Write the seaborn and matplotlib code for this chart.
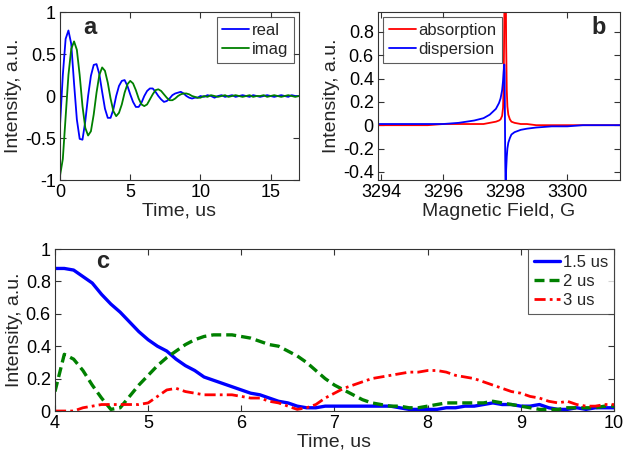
import numpy as np
import pandas as pd
import matplotlib
matplotlib.use("Agg")
import matplotlib.pyplot as plt
from matplotlib.ticker import FuncFormatter
import seaborn as sns

# ---- panel a: FID, real / imag ----
t_fid = [0.0, 0.2, 0.4, 0.6, 0.8, 1.0, 1.2, 1.4, 1.6, 1.8, 2.0, 2.2, 2.4, 2.6, 2.8,
         3.0, 3.2, 3.4, 3.6, 3.8, 4.0, 4.2, 4.4, 4.6, 4.8, 5.0, 5.2, 5.4, 5.6, 5.8,
         6.0, 6.2, 6.4, 6.6, 6.8, 7.0, 7.2, 7.4, 7.6, 7.8, 8.0, 8.2, 8.4, 8.6, 8.8,
         9.0, 9.2, 9.4, 9.6, 9.8, 10.0,
         10.25, 10.5, 10.75, 11.0, 11.25, 11.5, 11.75, 12.0, 12.25, 12.5, 12.75,
         13.0, 13.25, 13.5, 13.75, 14.0, 14.25, 14.5, 14.75, 15.0, 15.25, 15.5,
         15.75, 16.0, 16.25, 16.5, 16.75, 17.0]
fid_real = [-0.35, 0.25, 0.68, 0.78, 0.62, 0.15, -0.28, -0.51, -0.52, -0.30, 0.00,
            0.24, 0.37, 0.38, 0.26, 0.05, -0.15, -0.26, -0.26, -0.16, 0.00, 0.12,
            0.18, 0.19, 0.12, 0.02, -0.07, -0.13, -0.13, -0.08, 0.00, 0.06, 0.09,
            0.09, 0.05, 0.00, -0.04, -0.07, -0.06, -0.03, 0.01, 0.03, 0.04, 0.05,
            0.03, 0.00, -0.02, -0.03, -0.02, -0.02, 0.00,
            -0.01, 0.01, 0.00, -0.02, 0.00, 0.01, -0.01, 0.00, 0.01, -0.01, 0.00,
            0.01, 0.00, -0.01, 0.01, 0.00, -0.01, 0.00, 0.01, 0.00, -0.01, 0.00,
            0.01, 0.00, -0.01, 0.01, 0.00, 0.00]
fid_imag = [-0.95, -0.75, -0.25, 0.25, 0.56, 0.65, 0.55, 0.25, -0.12, -0.38, -0.47,
            -0.42, -0.22, 0.04, 0.25, 0.34, 0.30, 0.16, -0.03, -0.18, -0.24, -0.20,
            -0.10, 0.04, 0.14, 0.18, 0.15, 0.07, -0.03, -0.10, -0.12, -0.10, -0.04,
            0.02, 0.07, 0.08, 0.06, 0.02, -0.02, -0.05, -0.05, -0.03, 0.00, 0.02,
            0.03, 0.03, 0.02, 0.00, -0.01, -0.02, -0.02,
            0.00, -0.01, 0.01, 0.00, -0.01, 0.00, 0.01, -0.01, 0.00, 0.01, 0.00,
            -0.01, 0.00, 0.01, -0.01, 0.00, 0.00, 0.01, -0.01, 0.00, 0.01, 0.00,
            -0.01, 0.00, 0.01, 0.00, -0.01, 0.00]

# ---- panel b: field sweep ----
field = [3293.9, 3294.5, 3295.0, 3295.5, 3296.0, 3296.5, 3297.0, 3297.3, 3297.5,
         3297.7, 3297.8, 3297.85, 3297.9, 3297.93, 3297.95, 3297.97, 3297.98,
         3297.99, 3298.0, 3298.01, 3298.02, 3298.03, 3298.05, 3298.07, 3298.1,
         3298.15, 3298.2, 3298.3, 3298.5, 3298.7, 3299.0, 3299.5, 3300.0, 3300.5,
         3301.0, 3301.7]
absorption = [0.0, 0.0, 0.0, 0.0, 0.01, 0.01, 0.01, 0.01, 0.02, 0.03, 0.04, 0.05,
              0.08, 0.15, 0.35, 0.9, 1.3, 1.5, 1.5, 1.4, 1.1, 0.7, 0.3, 0.16, 0.09,
              0.05, 0.03, 0.02, 0.01, 0.01, 0.0, 0.0, 0.0, 0.0, 0.0, 0.0]
dispersion = [0.01, 0.01, 0.01, 0.01, 0.01, 0.02, 0.04, 0.06, 0.09, 0.14, 0.19, 0.23,
              0.30, 0.38, 0.46, 0.52, 0.45, 0.10, -0.30, -0.50, -0.50, -0.38, -0.27,
              -0.20, -0.15, -0.11, -0.08, -0.06, -0.04, -0.03, -0.02, -0.01, -0.01,
              0.0, 0.0, 0.0]

# ---- panel c: three delays ----
t_c = [4.0, 4.1, 4.2, 4.3, 4.4, 4.5, 4.6, 4.7, 4.8, 4.9, 5.0, 5.1, 5.2, 5.3, 5.4,
       5.5, 5.6, 5.7, 5.8, 5.9, 6.0, 6.1, 6.2, 6.3, 6.4, 6.5, 6.6, 6.7, 6.8, 6.9,
       7.0, 7.1, 7.2, 7.3, 7.4, 7.5, 7.6, 7.7, 7.8, 7.9, 8.0, 8.1, 8.2, 8.3, 8.4,
       8.5, 8.6, 8.7, 8.8, 8.9, 9.0, 9.1, 9.2, 9.3, 9.4, 9.5, 9.6, 9.7, 9.8, 9.9,
       10.0]
c_15 = [0.88, 0.88, 0.87, 0.83, 0.79, 0.72, 0.66, 0.61, 0.55, 0.49, 0.44, 0.40,
        0.37, 0.32, 0.28, 0.25, 0.21, 0.19, 0.17, 0.15, 0.13, 0.11, 0.10, 0.08,
        0.06, 0.05, 0.03, 0.02, 0.02, 0.03, 0.03, 0.03, 0.03, 0.03, 0.03, 0.03,
        0.03, 0.02, 0.01, 0.01, 0.01, 0.01, 0.02, 0.02, 0.03, 0.03, 0.04, 0.05,
        0.04, 0.04, 0.03, 0.03, 0.04, 0.02, 0.01, 0.01, 0.02, 0.01, 0.02, 0.02,
        0.02]
c_2 = [0.12, 0.35, 0.32, 0.25, 0.16, 0.08, 0.01, 0.02, 0.09, 0.16, 0.22, 0.28,
       0.33, 0.37, 0.41, 0.44, 0.46, 0.47, 0.47, 0.47, 0.46, 0.45, 0.43, 0.41,
       0.40, 0.37, 0.34, 0.30, 0.25, 0.20, 0.16, 0.13, 0.10, 0.07, 0.05, 0.04,
       0.03, 0.03, 0.02, 0.02, 0.03, 0.04, 0.05, 0.05, 0.05, 0.05, 0.05, 0.06,
       0.05, 0.04, 0.03, 0.02, 0.01, 0.01, 0.01, 0.02, 0.02, 0.02, 0.02, 0.03,
       0.03]
c_3 = [0.0, 0.0, 0.0, 0.02, 0.03, 0.04, 0.04, 0.04, 0.04, 0.04, 0.05, 0.09, 0.13,
       0.14, 0.12, 0.11, 0.10, 0.10, 0.10, 0.10, 0.09, 0.08, 0.08, 0.06, 0.05,
       0.03, 0.01, 0.02, 0.04, 0.08, 0.11, 0.14, 0.16, 0.18, 0.20, 0.21, 0.22,
       0.23, 0.24, 0.24, 0.25, 0.25, 0.24, 0.22, 0.21, 0.20, 0.18, 0.16, 0.14,
       0.12, 0.11, 0.09, 0.08, 0.06, 0.05, 0.06, 0.04, 0.03, 0.03, 0.04, 0.04]

sns.set_style("ticks")
plt.rcParams["font.family"] = ["Liberation Sans", "DejaVu Sans"]
plt.rcParams["axes.unicode_minus"] = False
plt.rcParams["xtick.direction"] = "in"
plt.rcParams["ytick.direction"] = "in"
plt.rcParams["xtick.top"] = True
plt.rcParams["ytick.right"] = True
plt.rcParams["axes.linewidth"] = 0.8
plt.rcParams["axes.edgecolor"] = "#333333"
plt.rcParams["xtick.color"] = "#333333"
plt.rcParams["ytick.color"] = "#333333"
plt.rcParams["xtick.labelcolor"] = "black"
plt.rcParams["ytick.labelcolor"] = "black"

TICK_FS = 13
LABEL_FS = 14
LEG_FS = 12
fmt_g = FuncFormatter(lambda v, p: "%g" % round(v, 6))

fig = plt.figure(figsize=(6.29, 4.53), dpi=100)
ax_a = fig.add_axes([0.0954, 0.6026, 0.3796, 0.3709])
ax_b = fig.add_axes([0.601, 0.6026, 0.3847, 0.3709])
ax_c = fig.add_axes([0.0874, 0.0927, 0.8887, 0.3576])


def legend_box(ax, **kw):
    leg = ax.legend(frameon=True, fancybox=False, fontsize=LEG_FS, handlelength=1.6,
                    handletextpad=0.15, borderpad=0.35, labelspacing=0.25, **kw)
    leg.get_frame().set_edgecolor("#333333")
    leg.get_frame().set_linewidth(0.8)
    return leg


# panel a
df_a = pd.DataFrame({"t": t_fid, "real": fid_real, "imag": fid_imag})
sns.lineplot(data=df_a, x="t", y="real", ax=ax_a, color="blue", lw=1.3, label="real")
sns.lineplot(data=df_a, x="t", y="imag", ax=ax_a, color="green", lw=1.3, label="imag")
ax_a.set_xlim(0, 17)
ax_a.set_ylim(-1, 1)
ax_a.set_xticks([0, 5, 10, 15])
ax_a.set_yticks([-1, -0.5, 0, 0.5, 1])
ax_a.yaxis.set_major_formatter(fmt_g)
ax_a.set_xlabel("Time, us", fontsize=LABEL_FS, labelpad=1)
ax_a.set_ylabel("Intensity, a.u.", fontsize=LABEL_FS, labelpad=2)
ax_a.text(0.125, 0.91, "a", transform=ax_a.transAxes, fontsize=17, fontweight="bold",
          ha="center", va="center")
legend_box(ax_a, loc="upper right", borderaxespad=0.3)

# panel b
df_b = pd.DataFrame({"B": field, "absorption": absorption, "dispersion": dispersion})
sns.lineplot(data=df_b, x="B", y="absorption", ax=ax_b, color="red", lw=1.3,
             label="absorption")
sns.lineplot(data=df_b, x="B", y="dispersion", ax=ax_b, color="blue", lw=1.3,
             label="dispersion")
ax_b.set_xlim(3293.9, 3301.7)
ax_b.set_ylim(-0.47, 0.97)
ax_b.set_xticks([3294, 3296, 3298, 3300])
ax_b.set_yticks([-0.4, -0.2, 0, 0.2, 0.4, 0.6, 0.8])
ax_b.yaxis.set_major_formatter(fmt_g)
ax_b.set_xlabel("Magnetic Field, G", fontsize=LABEL_FS, labelpad=1)
ax_b.set_ylabel("Intensity, a.u.", fontsize=LABEL_FS, labelpad=2)
ax_b.text(0.91, 0.91, "b", transform=ax_b.transAxes, fontsize=17, fontweight="bold",
          ha="center", va="center")
legend_box(ax_b, loc="upper left", borderaxespad=0.3)

# panel c
df_c = pd.DataFrame({"t": t_c, "1.5 us": c_15, "2 us": c_2, "3 us": c_3})
sns.lineplot(data=df_c, x="t", y="1.5 us", ax=ax_c, color="blue", lw=2.4,
             label="1.5 us")
sns.lineplot(data=df_c, x="t", y="2 us", ax=ax_c, color="green", lw=2.4,
             linestyle=(0, (3, 1.5)), label="2 us")
sns.lineplot(data=df_c, x="t", y="3 us", ax=ax_c, color="red", lw=2.0,
             linestyle=(0, (4, 1.5, 1, 1.5)), label="3 us")
ax_c.set_xlim(4, 10)
ax_c.set_ylim(0, 1)
ax_c.set_xticks([4, 5, 6, 7, 8, 9, 10])
ax_c.set_yticks([0, 0.2, 0.4, 0.6, 0.8, 1])
ax_c.yaxis.set_major_formatter(fmt_g)
ax_c.set_xlabel("Time, us", fontsize=LABEL_FS, labelpad=1)
ax_c.set_ylabel("Intensity, a.u.", fontsize=LABEL_FS, labelpad=2)
ax_c.text(0.086, 0.92, "c", transform=ax_c.transAxes, fontsize=17, fontweight="bold",
          ha="center", va="center")
legend_box(ax_c, loc="upper right", borderaxespad=0.0)

for ax in (ax_a, ax_b, ax_c):
    ax.tick_params(labelsize=TICK_FS, length=4, width=0.8, pad=3)
    for s in ax.spines.values():
        s.set_visible(True)

fig.savefig("out.png", dpi=100)
